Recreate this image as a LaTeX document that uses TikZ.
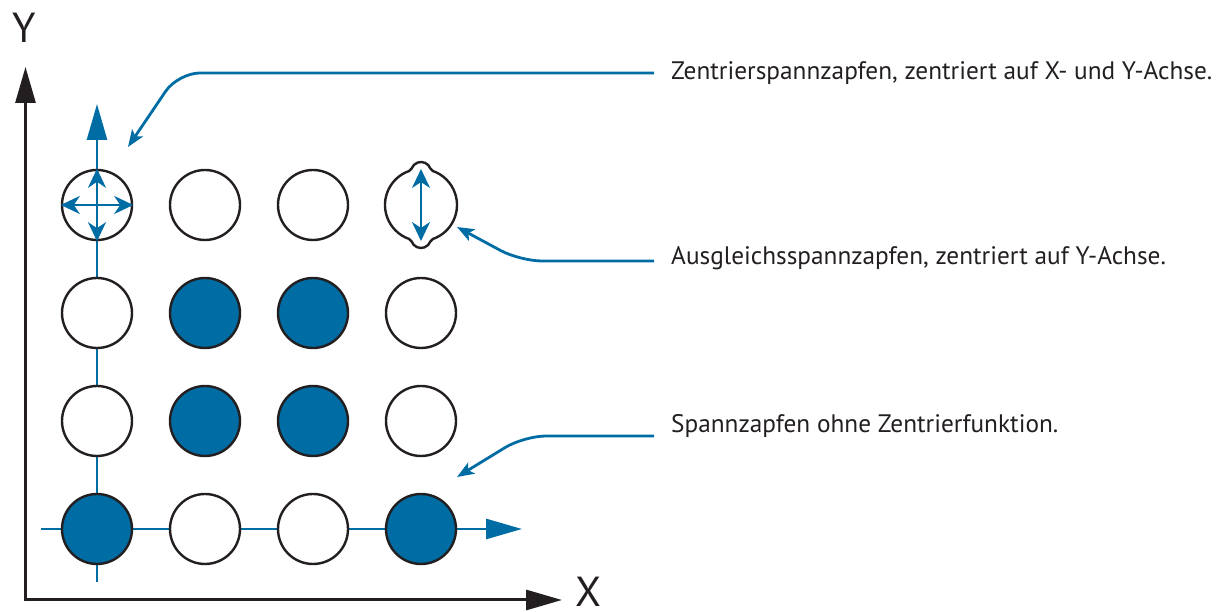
\documentclass[tikz,border=0pt]{standalone}
\usepackage{fontspec}
\setmainfont{PT Sans}
\usetikzlibrary{arrows.meta}
\definecolor{pinblue}{RGB}{0,108,164}
\definecolor{ink}{RGB}{35,31,32}
\tikzset{pin/.style={draw=ink,circle,line width=2.4pt,minimum size=70pt,inner sep=0pt,fill=white},
         pinfull/.style={pin,fill=pinblue},
         axisline/.style={draw=ink,line width=3pt,-{Triangle[length=36pt,width=20pt]}},
         blueaxis/.style={draw=pinblue,line width=2.8pt,-{Triangle[length=36pt,width=20pt]}},
         moves/.style={draw=pinblue,line width=2.4pt,
           {Stealth[length=19pt,width=18pt,inset=6pt]}-{Stealth[length=19pt,width=18pt,inset=6pt]}},
         leader/.style={draw=pinblue,line width=2.8pt,rounded corners=22pt,
           -{Stealth[length=17pt,width=13pt,inset=4pt]}},
         note/.style={font=\fontsize{25.3}{30}\selectfont,text=ink,inner sep=0pt,anchor=base west},
         axislabel/.style={font=\fontsize{42}{50}\selectfont,text=ink,inner sep=0pt,anchor=base west},
         }

\begin{document}
\begin{tikzpicture}[x=1pt,y=1pt]
\useasboundingbox (0,0) rectangle (1219,612);
% axes
\draw[axisline] (25.5,10.5) -- (25.5,545);
\draw[axisline] (24,12) -- (562,12);
\node[axislabel] (ly) at (12,569) {Y};
\node[axislabel] (lx) at (575,5) {X};
% blue axes behind the pins
\draw[blueaxis] (97,30) -- (97,508);
\draw[blueaxis] (41,83) -- (522,83);
% pins
\foreach \i/\j/\sty in {1/1/pin,1/2/pin,1/3/pin,
                        2/1/pin,2/2/pinfull,2/3/pinfull,2/4/pin,
                        3/1/pin,3/2/pinfull,3/3/pinfull,3/4/pin,
                        4/1/pinfull,4/2/pin,4/3/pin,4/4/pinfull}
  \node[\sty] (p\i\j) at ({97+108*(\j-1)},{407-108*(\i-1)}) {};
% compensating pin
\coordinate (p14) at (421,407);
\draw[draw=ink,line width=2.4pt,fill=white]
  ([shift={(-70.8:36)}]p14) arc[start angle=-70.8,end angle=70.8,radius=36]
  arc[start angle=250.7,end angle=199.9,radius=4]
  arc[start angle=19.9,end angle=160.1,radius=10]
  arc[start angle=-19.9,end angle=-70.7,radius=4]
  arc[start angle=109.2,end angle=250.8,radius=36]
  arc[start angle=70.7,end angle=19.9,radius=4]
  arc[start angle=199.9,end angle=340.1,radius=10]
  arc[start angle=160.1,end angle=109.3,radius=4] -- cycle;
\draw[moves] ([yshift=36pt]p14) -- ([yshift=-36pt]p14);
% centering pin
\draw[moves] (p11.west) -- (p11.east);
\draw[moves] (p11.north) -- (p11.south);
% notes
\node[note] (n1) at (671,532.7) {Zentrierspannzapfen, zentriert auf X- und Y-Achse.};
\node[note] (n2) at (671,347.7) {Ausgleichsspannzapfen, zentriert auf Y-Achse.};
\node[note] (n3) at (671,179.3) {Spannzapfen ohne Zentrierfunktion.};
\coordinate (s1) at (654,539);
\coordinate (s2) at (654,351);
\coordinate (s3) at (654,176);
\coordinate (t1) at (128,465);
\coordinate (t2) at (457,385);
\coordinate (t3) at (457,135);
\draw[leader] (s1) -- (178,539) -- (t1);
\draw[leader] (s2) -- (520,351) -- (t2);
\draw[leader] (s3) -- (524,176) -- (t3);
\end{tikzpicture}
\end{document}
